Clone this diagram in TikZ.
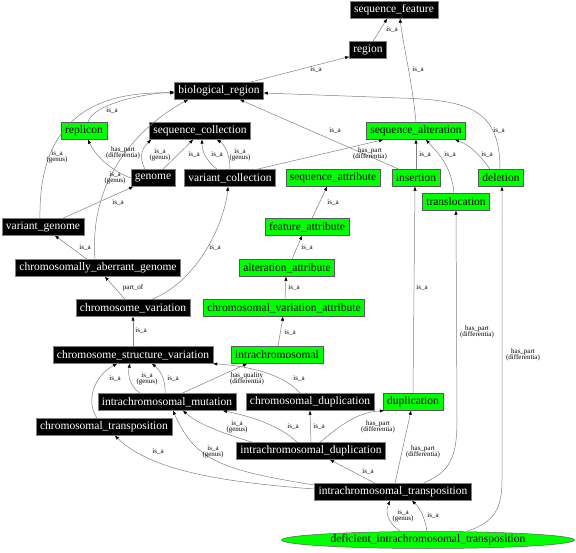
\documentclass[tikz,border=0pt]{standalone}
\usepackage{fontspec}
\setmainfont{Liberation Serif}
\usetikzlibrary{arrows.meta,shapes.geometric}

\tikzset{
  term/.style={rectangle, fill=black, draw=gray, text=white, minimum height=17pt,
    inner xsep=4pt, inner ysep=0pt, line width=0.5pt, font=\fontsize{11.5}{12}\selectfont},
  attr/.style={term, fill=green, text=black, draw=gray!70!black},
  attre/.style={attr, ellipse, minimum width=293pt, inner sep=0pt},
  rel/.style={draw=gray, line width=0.5pt, -{Triangle[length=4pt,width=3pt,color=black]}},
  lbl/.style={font=\fontsize{7}{6.5}\selectfont, align=center, inner sep=0pt, text=black},
}

\begin{document}
\begin{tikzpicture}[x=1pt, y=-1pt]
  \useasboundingbox (0,0) rectangle (576,553);

  % Define nodes
  \node[term] (sf)  at (394,10)  {sequence\_feature};
  \node[term] (rg)  at (368,50)  {region};
  \node[term] (br)  at (219,91)  {biological\_region};
  \node[attr] (rep) at (84,131)  {replicon};
  \node[term] (sc)  at (200,131) {sequence\_collection};
  \node[attr] (sa)  at (416,131) {sequence\_alteration};
  \node[term] (gen) at (153,178) {genome};
  \node[term] (vc)  at (230,178) {variant\_collection};
  \node[attr] (sat) at (333,178) {sequence\_attribute};
  \node[attr] (ins) at (416,178) {insertion};
  \node[attr] (del) at (501,178) {deletion};
  \node[attr] (tl)  at (456,202) {translocation};
  \node[term] (vg)  at (43,227)  {variant\_genome};
  \node[attr] (fa)  at (307,227) {feature\_attribute};
  \node[term] (cag) at (98,268)  {chromosomally\_aberrant\_genome};
  \node[attr] (aa)  at (287,268) {alteration\_attribute};
  \node[term] (cv)  at (133,308) {chromosome\_variation};
  \node[attr] (cva) at (284,308) {chromosomal\_variation\_attribute};
  \node[term] (csv) at (133,355) {chromosome\_structure\_variation};
  \node[attr] (ic)  at (277,355) {intrachromosomal};
  \node[term] (icm) at (167,402) {intrachromosomal\_mutation};
  \node[term] (cd)  at (310,402) {chromosomal\_duplication};
  \node[attr] (dup) at (413,402) {duplication};
  \node[term] (ct)  at (104,427) {chromosomal\_transposition};
  \node[term] (icd) at (311,451) {intrachromosomal\_duplication};
  \node[term] (ict) at (393,492) {intrachromosomal\_transposition};
  \node[attre] (dit) at (428,540) {deficient\_intrachromosomal\_transposition};

  % Connect the nodes
  \draw[rel] ([xshift=5]rg.north) -- ([xshift=-7]sf.south) node[lbl, at={(392,30)}] {is\_a};
  \draw[rel] (sa.north) .. controls (412,80) and (404,50) .. ([xshift=6]sf.south) node[lbl, at={(418,70)}] {is\_a};
  \draw[rel] ([xshift=31]br.north) -- ([yshift=2]rg.south west) node[lbl, at={(316,70)}] {is\_a};
  \draw[rel] ([xshift=-1]del.north) .. controls (500,110) and (470,100) .. (400,98) -- ([yshift=-2]br.east) node[lbl, at={(499,131)}] {is\_a};
  \draw[rel] ([xshift=-17]ins.north) -- ([xshift=21]br.south) node[lbl, at={(335,131)}] {is\_a};
  \draw[rel] ([xshift=4]rep.north) .. controls (92,105) and (140,94) .. ([yshift=-1]br.west) node[lbl, at={(112,111)}] {is\_a};
  \draw[rel] ([xshift=-3]vg.north) .. controls (38,100) and (120,92) .. ([yshift=-2]br.west) node[lbl, at={(57,157)}] {is\_a\\(genus)};
  \draw[rel] ([xshift=-3]cag.north) .. controls (88,170) and (150,120) .. ([xshift=-31]br.south) node[lbl, at={(115,178)}] {is\_a\\(genus)};
  \draw[rel] (gen.west) .. controls (110,170) and (95,155) .. ([xshift=4]rep.south) node[lbl, at={(123,153)}] {has\_part\\(differentia)};
  \draw[rel] ([xshift=-8]gen.north) .. controls (140,160) and (140,150) .. ([xshift=2]sc.south west) node[lbl, at={(160,155)}] {is\_a\\(genus)};
  \draw[rel] ([xshift=10]gen.north) -- ([xshift=-7]sc.south) node[lbl, at={(194,155)}] {is\_a};
  \draw[rel] ([xshift=-13]vc.north) .. controls (205,160) and (202,150) .. ([xshift=2]sc.south) node[lbl, at={(217,155)}] {is\_a};
  \draw[rel] (vc.north) .. controls (230,155) and (225,145) .. ([xshift=17]sc.south) node[lbl, at={(240,155)}] {is\_a\\(genus)};
  \draw[rel] ([xshift=27]vc.north) -- ([xshift=-33]sa.south) node[lbl, at={(370,154)}] {has\_part\\(differentia)};
  \draw[rel] (ins.north) -- (sa.south) node[lbl, at={(425,155)}] {is\_a};
  \draw[rel] ([xshift=-2]tl.north) .. controls (452,165) and (435,150) .. ([xshift=10]sa.south) node[lbl, at={(450,155)}] {is\_a};
  \draw[rel] ([xshift=-11]del.north) .. controls (480,155) and (470,145) .. ([xshift=39]sa.south) node[lbl, at={(487,155)}] {is\_a};
  \draw[rel] ([xshift=20]vg.north) -- ([xshift=-20]gen.south) node[lbl, at={(118,203)}] {is\_a};
  \draw[rel] ([xshift=-11]cag.north) -- ([xshift=12]vg.south) node[lbl, at={(85,248)}] {is\_a};
  \draw[rel] ([xshift=5]fa.north) -- ([xshift=-6]sat.south) node[lbl, at={(333,203)}] {is\_a};
  \draw[rel] ([xshift=5]aa.north) -- ([xshift=-5]fa.south) node[lbl, at={(307,248)}] {is\_a};
  \draw[rel] ([xshift=1]cva.north) -- ([xshift=-1]aa.south) node[lbl, at={(294,288)}] {is\_a};
  \draw[rel] ([xshift=1]ic.north) -- ([xshift=-1]cva.south) node[lbl, at={(290,333)}] {is\_a};
  \draw[rel] ([xshift=-8]cv.north) -- ([xshift=7]cag.south) node[lbl, at={(133,288)}] {part\_of};
  \draw[rel] ([xshift=19]cv.north) .. controls (200,280) and (225,220) .. ([xshift=-2]vc.south) node[lbl, at={(215,248)}] {is\_a};
  \draw[rel] (csv.north) -- (cv.south) node[lbl, at={(141,331)}] {is\_a};
  \draw[rel] (dup.north) -- ([xshift=-1]ins.south) node[lbl, at={(422,288)}] {is\_a};
  \draw[rel] ([xshift=30]ict.north) .. controls (450,472) and (457,458) .. (457,420) -- (tl.south) node[lbl, at={(477,332)}] {has\_part\\(differentia)};
  \draw[rel] ([xshift=39]dit.north) .. controls (495,522) and (502,508) .. (502,480) -- ([xshift=1]del.south) node[lbl, at={(523,355)}] {has\_part\\(differentia)};
  \draw[rel] ([xshift=-7]ct.north) .. controls (85,400) and (95,375) .. ([xshift=-16]csv.south) node[lbl, at={(115,379)}] {is\_a};
  \draw[rel] ([xshift=-27]icm.north) .. controls (128,385) and (128,372) .. ([xshift=-3]csv.south) node[lbl, at={(147,379)}] {is\_a\\(genus)};
  \draw[rel] ([xshift=-2]icm.north) .. controls (166,380) and (160,370) .. ([xshift=19]csv.south) node[lbl, at={(173,379)}] {is\_a};
  \draw[rel] ([xshift=-10]cd.north) .. controls (285,375) and (250,366) .. (csv.south east) node[lbl, at={(299,379)}] {is\_a};
  \draw[rel] ([xshift=15]icm.north) -- ([xshift=-30]ic.south) node[lbl, at={(247,379)}] {has\_quality\\(differentia)};
  \draw[rel] ([xshift=-59]icd.north) .. controls (220,432) and (200,425) .. ([xshift=16]icm.south) node[lbl, at={(237,427)}] {is\_a\\(genus)};
  \draw[rel] ([xshift=-14]icd.north) .. controls (285,430) and (260,418) .. ([xshift=56]icm.south) node[lbl, at={(293,427)}] {is\_a};
  \draw[rel] (icd.north) -- (cd.south) node[lbl, at={(319,427)}] {is\_a};
  \draw[rel] ([xshift=9]icd.north) .. controls (335,430) and (355,412) .. ([xshift=1]dup.south west) node[lbl, at={(378,427)}] {has\_part\\(differentia)};
  \draw[rel] ([xshift=-18]ict.north) -- ([xshift=19]icd.south) node[lbl, at={(368,472)}] {is\_a};
  \draw[rel] ([xshift=2]ict.north) -- ([xshift=-2]dup.south) node[lbl, at={(423,452)}] {has\_part\\(differentia)};
  \draw[rel] ([yshift=7]ict.west) .. controls (220,470) and (195,460) .. ([xshift=6]icm.south) node[lbl, at={(213,452)}] {is\_a\\(genus)};
  \draw[rel] ([yshift=3]ict.west) .. controls (220,482) and (150,470) .. ([xshift=11]ct.south) node[lbl, at={(158,452)}] {is\_a};
  \draw[rel] ([xshift=-28]dit.north) .. controls (385,520) and (386,510) .. ([xshift=-3]ict.south) node[lbl, at={(403,516)}] {is\_a\\(genus)};
  \draw[rel] ([xshift=-1]dit.north) .. controls (425,518) and (420,508) .. ([xshift=19]ict.south) node[lbl, at={(433,516)}] {is\_a};

\end{tikzpicture}
\end{document}
